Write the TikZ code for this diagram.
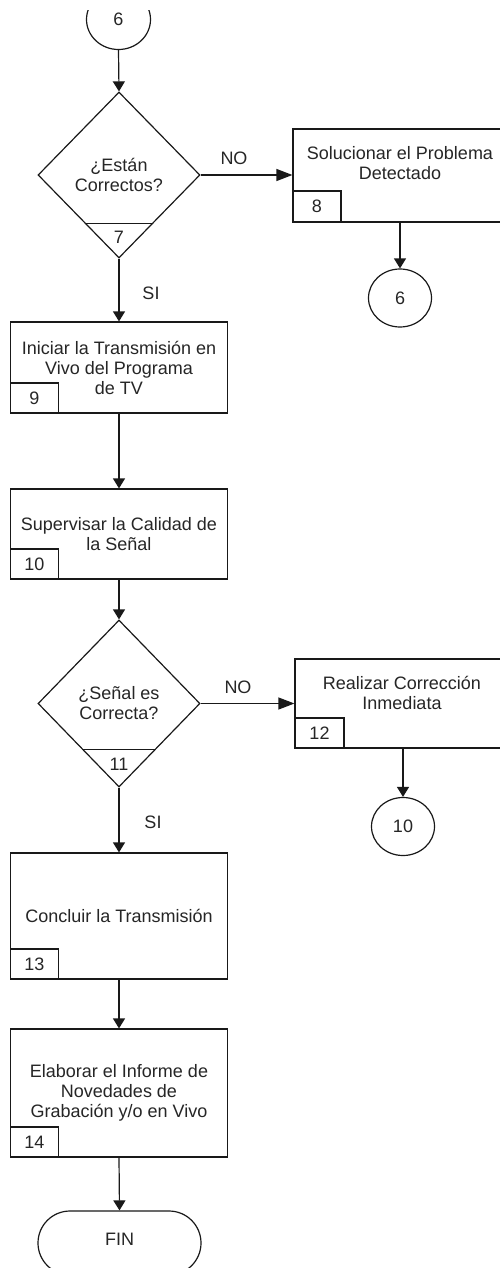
\documentclass[tikz,border=0pt]{standalone}
\usepackage{fontspec}
\setmainfont{Liberation Sans}
\usetikzlibrary{shapes.geometric,shapes.misc,arrows.meta,calc}
\begin{document}
\begin{tikzpicture}[x=1pt,y=-1pt,
  every node/.style={font=\fontsize{18}{20}\selectfont, text=black!85},
  line/.style={draw=black!90, line width=1.2pt},
  proc/.style={line, rectangle, minimum width=217pt, minimum height=#1, inner sep=0pt, align=center},
  proc/.default=91pt,
  tab/.style={line, rectangle, anchor=south west, minimum width=48pt, minimum height=30pt, inner sep=0pt},
  decision/.style={line, diamond, minimum width=162pt, minimum height=#1, inner sep=0pt, align=center},
  decision/.default=166pt,
  conn/.style={line, ellipse, minimum width=63pt, minimum height=58pt, inner sep=0pt},
  term/.style={line, rounded rectangle, minimum width=163pt, minimum height=64pt, inner sep=0pt},
  txt/.style={align=center, inner sep=0pt},
  arr/.style={line, -{Triangle[width=12pt,length=10pt]}},
  arrh/.style={line, -{Triangle[width=12pt,length=16pt]}}
]
\useasboundingbox (0,0) rectangle (500,1268);
\fill[white] (0,0) rectangle (500,1268);
\clip (0,0) rectangle (500,1268);

% off-page connector at the top, its upper arc cut away
\begin{scope}
  \clip (0,11) rectangle (500,120);
  \node[conn, minimum width=64pt, minimum height=60pt] (c6a) at (118.5,19.5) {6};
\end{scope}

% decision 7
\node[decision] (d7) at (119,175) {¿Están\\Correctos?};
\draw[line] ($(d7.south)!0.4217!(d7.west)$) -- ($(d7.south)!0.4217!(d7.east)$);
\node (n7) at (119,237) {7};

% step 8 (NO branch)
\node[proc=93pt, minimum width=214pt] (b8) at (400,175.5) {};
\node[txt] (b8t) at (400,163.5) {Solucionar el Problema\\Detectado};
\node[tab, minimum width=48pt, minimum height=31pt] (t8) at (b8.south west) {8};
\node[conn] (c6b) at (400,298) {6};

% step 9
\node[proc] (b9) at (119,367.5) {Iniciar la Transmisión en\\Vivo del Programa\\de TV};
\node[tab] (t9) at (b9.south west) {9};

% step 10
\node[proc=90pt] (b10) at (119,534) {Supervisar la Calidad de\\la Señal};
\node[tab] (t10) at (b10.south west) {10};

% decision 11
\node[decision=167pt] (d11) at (119,703.5) {¿Señal es\\Correcta?};
\draw[line] ($(d11.south)!0.455!(d11.west)$) -- ($(d11.south)!0.455!(d11.east)$);
\node (n11) at (119,764) {11};

% step 12 (NO branch)
\node[proc=89pt, minimum width=216pt] (b12) at (403,703.5) {};
\node[txt] (b12t) at (402,693) {Realizar Corrección\\Inmediata};
\node[tab, minimum width=49pt] (t12) at (b12.south west) {12};
\node[conn] (c10) at (403,826.5) {10};

% step 13
\node[proc=126pt] (b13) at (119,916) {Concluir la Transmisión};
\node[tab] (t13) at (b13.south west) {13};

% step 14
\node[proc=128pt] (b14) at (119,1093) {Elaborar el Informe de\\Novedades de\\Grabación y/o en Vivo};
\node[tab] (t14) at (b14.south west) {14};

% end
\node[term] (fin) at (119.5,1243) {};
\node[txt] (fint) at (119.5,1239) {FIN};

% branch labels
\node (no1) at (234,158) {NO};
\node (si1) at (151,293) {SI};
\node (no2) at (238,687) {NO};
\node (si2) at (153,822) {SI};

% connectors
\draw[arr] (c6a.south) -- (d7.north);
\draw[arrh] (d7.east) -- (d7.east -| b8.west);
\draw[arr] (b8.south) -- (c6b.north);
\draw[arr] (d7.south) -- (b9.north);
\draw[arr] (b9.south) -- (b10.north);
\draw[arr] (b10.south) -- (d11.north);
\draw[arrh] (d11.east) -- (d11.east -| b12.west);
\draw[arr] (b12.south) -- (c10.north);
\draw[arr] (d11.south) -- (b13.north);
\draw[arr] (b13.south) -- (b14.north);
\draw[arr] (b14.south) -- (fin.north);
\end{tikzpicture}
\end{document}
